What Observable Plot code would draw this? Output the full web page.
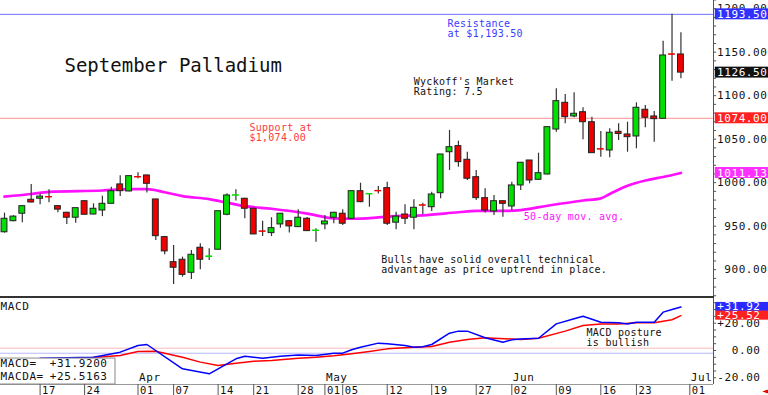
<!DOCTYPE html>
<html><head><meta charset="utf-8">
<script src="https://cdn.jsdelivr.net/npm/d3@7"></script>
<script src="https://cdn.jsdelivr.net/npm/@observablehq/plot@0.6"></script>
<style>
body{margin:0;background:#fff;}
#wrap{position:relative;width:768px;height:395px;overflow:hidden;background:#fff;}
#wrap svg{position:absolute;left:0;overflow:visible;background:transparent;}
#sep{position:absolute;left:0;top:296px;width:714px;height:2px;background:#333;}
g[font-size="11"] text{letter-spacing:0.6px;}
g[font-size="10"] text{letter-spacing:0.25px;}
g[font-size="10.5"] text{letter-spacing:0.6px;}
</style></head><body><div id="wrap"></div>
<script>
// ---------- DATA ----------
const dayLabels   = ["17","24","01","07","14","21","28","01","05","12","19","27","02","09","16","23","01"];
const dayTickIdx  = [5,10,16,20,25,29,34,37,39,44,49,54,58,63,68,72,78];
const monthLabels = ["Apr","May","Jun","Jul"];
const monthTickIdx= [16,37,58,78];

// candles (index 1..77 = trading days Mar 11 .. Jun 30)
const openP  = [943,955.7,964.3,980.3,981.5,983.5,973,965.4,959.7,978.7,963.4,968,975.7,998,989.9,1006.5,1008.3,980.7,937.4,908.6,911.4,896.4,925.2,914.5,922.9,963.1,985,981.5,970,944,942,952,955.7,948.9,958.5,944.5,952,959.7,964.3,958.5,990.2,986.5,990.5,993.7,954,963.4,959.7,974,971.8,987.9,1035,1042,1026.3,1006.3,982.2,966.9,978.7,972.6,996.8,1025.5,1003.3,1009.4,1061.1,1091.8,1076.1,1081,1069.5,1038.5,1037,1058.5,1055.4,1053.1,1083.8,1076.1,1073.4,1147.5,1147.4];
const highP  = [965,962,973,998,987,992,973.5,966,970.7,979,975.7,984.5,994.8,1008,1007.5,1011.4,1008.5,981,938,927.8,914.4,922,929.8,924,967.2,987.2,992,982,970.5,955.7,959.7,964.3,956,968.9,960,947,962.3,966,969,990.5,999.4,987,995.6,1000.6,966,974.6,980.3,976.4,989,1032.4,1060,1047.7,1035,1014,993,985.3,979,1000.6,1023,1025.5,1033.9,1064,1108,1101.4,1103.3,1086,1075.3,1058.9,1062,1067.7,1069.5,1091.8,1088.7,1081.8,1162.6,1193.5,1172.3];
const lowP   = [942,955,954,977,974.6,977,965.4,952,953.4,963,963,961,975.5,984,989.5,1004.5,988,933.6,917,883,891.4,888.7,899.9,910.6,922.5,962,979,958.5,940.5,938.2,938,947.7,942,948.5,944,931.6,946,952.8,950.7,958,977,971.8,987,950.8,946,952,946,963.4,967,981.5,1014,1017.8,1002.5,979.5,965,962.3,960.3,968,991,998.7,1003,1009,1058,1067.7,1074.6,1049.3,1033.9,1029.3,1028.6,1048.5,1035,1039,1063.1,1046.6,1073,1116.7,1119.4];
const closeP = [958.5,961,973,977.2,984,983,969,959.7,970.7,963.1,970,975.7,990.2,990.2,1007.5,1006,998.7,938.5,921,902.2,894,917.1,911.4,915.2,967.2,985.3,985.5,970,940.5,943.5,947.7,964.3,949.7,959.7,944.3,945,955.4,965.4,952.8,990.2,977.6,987,990,952.8,961,958.5,971.1,973.5,986.4,1032.4,1040.8,1023.6,1004.5,982.2,968,978.7,975.7,996.8,1022.9,1002.5,1010.9,1063.8,1093.7,1075.3,1079.2,1069.5,1033.9,1038,1057.4,1056,1052.3,1086.1,1074.6,1073,1146.2,1147,1126.5];

// 50-day moving average
const maIdx = [1,4,6,12,15,17,19,21,24,26,28,31,35,38,40,43,45,48,52,54,57,59,62,66,68,69,71,73,75,77];
const maVal = [984,987,989.5,991,992.5,992.5,989,984.5,981,977,973,970,964.5,959,958.5,960,961.5,962.5,966,967.5,967.5,968.5,973.5,979.5,982,987,996.5,1002.5,1006.5,1011.13];

// MACD (blue) and MACD average (red)
const macdIdx = [5,11,14,16,17,21,24,27,28,30,32,34,36,38,39,40,41,43,44,46,47,48,49,51,52,53,55,57,58,59,61,63,65,66,68,70,71,72,74,75,76,77];
const macdVal = [-5.6,-4.9,-1.2,3.7,4.4,-13.4,-17.1,-6.1,-4.15,-5.6,-4.15,-3.2,-3.66,-1.95,-1.95,0.5,2.44,5.4,4.9,3.7,2.4,2.7,4.4,12.7,14.2,14.2,9.3,6.1,7.8,8.5,9.0,19.5,23.2,25.1,20.7,20.3,19.5,20.7,20.7,28.1,30.0,31.92];
const sigIdx = [9,11,14,16,18,21,23,25,27,29,31,34,36,38,40,42,44,47,49,51,53,55,56,59,61,64,66,68,70,72,74,76,77];
const sigVal = [-6,-5.2,-3.7,-0.7,-0.5,-4.9,-8.5,-11,-9.3,-7.8,-7.3,-5.6,-4.9,-3.9,-2.4,-0.7,1.2,2.4,2.9,6.1,8.1,9.3,9.0,8.1,9.0,14.2,18.3,19.5,19.5,20.3,20.3,22.5,25.52];
const macdRefLevels = [1.7, -2.0];

const priceTicks = [900,950,1000,1050,1100,1150,1200];
const priceMinor = d3.range(870, 1211, 10);
const macdTicks  = [-20,0,20];
const macdMinor  = d3.range(-20, 36, 5);

const resistance = 1193.5, support = 1074, lastClose = 1126.5, lastMA = 1011.13;
const macdLast = 31.92, sigLast = 25.52;
const macdLegend = ["MACD=","MACDA="], macdLegendVals = ["+31.9200","+25.5163"];

// ---------- BUILD ----------
const font = "DejaVu Sans Mono";
const xDomain = [0.55, 80.66];
const xEnd = 86.73, xEndM = 85.95, xImg = 87.2;
const green = "#00e000", red = "#ee0000";
const candles = openP.map((o,i)=>({k:i+1, open:o, high:highP[i], low:lowP[i], close:closeP[i]}));
const col = d => d.close > d.open ? green : red;
const doji = d => Math.abs(d.close - d.open) < 1.5;
const ma = maIdx.map((k,i)=>({k, v:maVal[i]}));
const macd = macdIdx.map((k,i)=>({k, v:macdVal[i]}));
const sig = sigIdx.map((k,i)=>({k, v:sigVal[i]}));
const boxes = [
  {v:resistance, c:"#3030ff"}, {v:lastClose, c:"#111"}, {v:support, c:"#ff2020"}, {v:lastMA, c:"#ff30ff"}
];

const priceChart = Plot.plot({
  width:768, height:297, marginTop:0, marginBottom:0, marginLeft:0, marginRight:55,
  x:{domain:xDomain, axis:null}, y:{domain:[868,1209.4], axis:null},
  style:{fontFamily:font, background:"transparent", overflow:"visible"},
  marks:[
    Plot.ruleY([resistance], {x1:xDomain[0], x2:xDomain[1], stroke:"#7070ff", strokeWidth:1}),
    Plot.ruleY([support], {x1:xDomain[0], x2:xDomain[1], stroke:"#ff9090", strokeWidth:1}),
    Plot.line(ma, {x:"k", y:"v", stroke:"#ff10ff", strokeWidth:2.7, curve:"monotone-x"}),
    Plot.ruleX(candles, {x:"k", y1:"low", y2:"high", stroke:"#333", strokeWidth:1.2}),
    Plot.rect(candles, {x1:d=>d.k-0.33, x2:d=>d.k+0.33, y1:"open", y2:"close", fill:col,
      stroke:d=>doji(d)?col(d):"#222", strokeWidth:1}),
    Plot.ruleX([xDomain[1]], {stroke:"#555", strokeWidth:1}),
    Plot.ruleY(priceMinor, {x1:xDomain[1], x2:xDomain[1]+0.35, stroke:"#555"}),
    Plot.text(priceTicks, {x:xEnd, y:d=>d, text:d=>d.toFixed(2), textAnchor:"end", fontSize:11, fill:"#111"}),
    Plot.rect(boxes, {x1:xDomain[1]+0.2, x2:xImg, y1:d=>d.v-6.3, y2:d=>d.v+6.3, fill:"c"}),
    Plot.text(boxes, {x:xEnd, y:"v", text:d=>d.v.toFixed(2), textAnchor:"end", fontSize:11, fill:"white"}),
    Plot.text(["September Palladium"], {x:7.74, y:1134.7, textAnchor:"start", fontSize:19, fill:"#111"}),
    Plot.text(["Resistance\nat $1,193.50"], {x:50.78, y:1176.9, textAnchor:"start", fontSize:10, lineHeight:1, fill:"#3a3aff"}),
    Plot.text(["Wyckoff's Market\nRating: 7.5"], {x:46.99, y:1109.8, textAnchor:"start", fontSize:10, lineHeight:1, fill:"#111"}),
    Plot.text(["Support at\n$1,074.00"], {x:28.53, y:1057.4, textAnchor:"start", fontSize:10, lineHeight:1, fill:"#ff3a3a"}),
    Plot.text(["Bulls have solid overall technical\nadvantage as price uptrend in place."], {x:43.33, y:906, textAnchor:"start", fontSize:10, lineHeight:1, fill:"#111"}),
    Plot.text(["50-day mov. avg."], {x:59.35, y:960.3, textAnchor:"start", fontSize:10, fill:"#ff10ff"})
  ]
});

const macdChart = Plot.plot({
  width:768, height:98, marginTop:1, marginBottom:11, marginLeft:0, marginRight:55,
  x:{domain:xDomain, axis:null}, y:{domain:[-24.9,38.1], axis:null},
  style:{fontFamily:font, background:"transparent", overflow:"visible"},
  marks:[
    Plot.ruleY([macdRefLevels[0]], {x1:xDomain[0], x2:xDomain[1], stroke:"#ffb8b8"}),
    Plot.ruleY([macdRefLevels[1]], {x1:xDomain[0], x2:xDomain[1], stroke:"#b8b8ff"}),
    Plot.line(sig, {x:"k", y:"v", stroke:"#ff0000", strokeWidth:1.5}),
    Plot.line(macd, {x:"k", y:"v", stroke:"#0000ff", strokeWidth:1.5}),
    Plot.ruleX([xDomain[1]], {y1:-24.9, y2:38.1, stroke:"#555"}),
    Plot.ruleY(macdMinor, {x1:xDomain[1], x2:xDomain[1]+0.35, stroke:"#555"}),
    Plot.text(macdTicks, {x:xEndM, y:d=>d, text:d=>(d>0?"+":"")+d.toFixed(2), textAnchor:"end", fontSize:11, fill:"#111"}),
    Plot.rect([{v:macdLast,c:"#2a2aff"},{v:sigLast,c:"#ff2020"}], {x1:xDomain[1]+0.25, x2:xImg, y1:d=>d.v-3.3, y2:d=>d.v+3.3, fill:"c"}),
    Plot.text([{v:macdLast},{v:sigLast}], {x:xEndM, y:"v", text:d=>"+"+d.v.toFixed(2), textAnchor:"end", fontSize:11, fill:"white"}),
    Plot.text(["MACD"], {x:xDomain[0], y:32.0, textAnchor:"start", fontSize:11, fill:"#111"}),
    Plot.text(["MACD posture\nis bullish"], {x:66.4, y:9.0, textAnchor:"start", fontSize:10, lineHeight:1, fill:"#111"}),
    Plot.ruleY([-24.9], {x1:xDomain[0], x2:xDomain[1], stroke:"#999"}),
    Plot.rect([0], {x1:xDomain[0]-0.3, x2:13.47, y1:-24.9, y2:-5.9, fill:"white", stroke:"#888"}),
    Plot.text(macdLegend, {x:xDomain[0], y:(d,i)=>[-9.7,-19.0][i], textAnchor:"start", fontSize:11, fill:"#111"}),
    Plot.text(macdLegendVals, {x:6.09, y:(d,i)=>[-9.7,-19.0][i], textAnchor:"start", fontSize:11, fill:"#111"}),
    Plot.text(monthLabels, {x:(d,i)=>monthTickIdx[i], y:-20.1, dx:1, textAnchor:"start", fontSize:11, fill:"#111"}),
    Plot.ruleX(dayTickIdx, {x:d=>d, y1:-24.9, y2:-33.2, stroke:"#555"}),
    Plot.text(dayLabels, {x:(d,i)=>dayTickIdx[i], y:-29.2, dx:2, textAnchor:"start", fontSize:10.5, fill:"#111"}),
    Plot.text(["◄"], {x:86.5, y:-29.2, fontSize:10, fill:"#e00000"})
  ]
});

const wrap = document.getElementById("wrap");
priceChart.style.top = "0px";
macdChart.style.top = "297px";
wrap.appendChild(priceChart);
wrap.appendChild(macdChart);
const sep = document.createElement("div"); sep.id = "sep"; wrap.appendChild(sep);
</script></body></html>
